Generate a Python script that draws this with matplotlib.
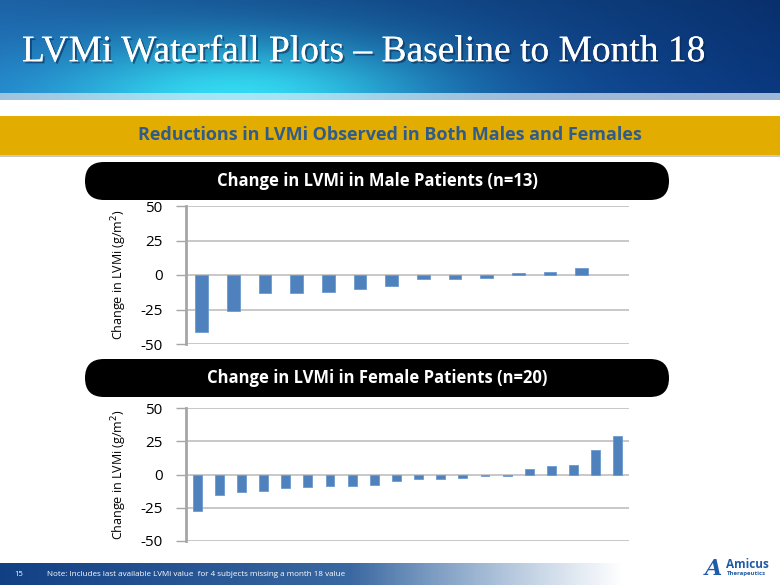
import matplotlib
matplotlib.use('Agg')
import matplotlib.pyplot as plt
import matplotlib.patheffects as pe
import numpy as np
from matplotlib.patches import FancyBboxPatch, Rectangle

# data (change in LVMi, g/m^2)
male_values = [-41, -26, -13, -13, -12.3, -10.4, -8, -3, -3, -2, 1.5, 2.2, 5]
female_values = [-27.5, -15.5, -13, -12.3, -10.3, -9.1, -8.6, -8.6, -7.8, -4.8,
                 -3.3, -3.3, -2.3, -1.3, -1.5, 4.3, 6.5, 7.3, 18.1, 29]
male_slots = 14
female_slots = 20
y_ticks = [-50, -25, 0, 25, 50]

title = 'LVMi Waterfall Plots \u2013 Baseline to Month 18'
subtitle = 'Reductions in LVMi Observed in Both Males and Females'
male_title = 'Change in LVMi in Male Patients (n=13)'
female_title = 'Change in LVMi in Female Patients (n=20)'
y_label = 'Change in LVMi (g/m$^2$)'
note = 'Note: Includes last available LVMi value  for 4 subjects missing a month 18 value'

W, H = 780, 585
BAR = '#4F81BD'
GRID = '#BFBFBF'
FONT = 'Open Sans'

fig = plt.figure(figsize=(W / 100, H / 100), dpi=100)
bg = fig.add_axes([0, 0, 1, 1])
bg.set_xlim(0, W)
bg.set_ylim(H, 0)
bg.axis('off')

# banner gradient (decoration)
xx, yy = np.meshgrid(np.linspace(0, 1, W), np.linspace(0, 1, 93))
left = np.array([0.13, 0.45, 0.76])
right = np.array([0.04, 0.22, 0.50])
base = left[None, None, :] * (1 - xx[..., None]) + right[None, None, :] * xx[..., None]
glow = np.exp(-(((xx - 0.30) / 0.25) ** 2 + ((yy - 1.0) / 0.6) ** 2))
cyan = np.array([0.20, 0.85, 0.95])
img = base * (1 - glow[..., None]) + cyan[None, None, :] * glow[..., None]
img = img * (0.85 + 0.15 * yy[..., None])
bg.imshow(np.clip(img, 0, 1), extent=[0, W, 93, 0], aspect='auto', zorder=0)
sx = np.linspace(0, 1, W)
sglow = np.exp(-((sx - 0.3) / 0.25) ** 2)
stripe = np.zeros((1, W, 3))
stripe[0] = np.array([0.62, 0.72, 0.84])[None, :] * (1 - sglow[:, None]) + \
    np.array([0.65, 0.90, 0.97])[None, :] * sglow[:, None]
bg.imshow(stripe, extent=[0, W, 100, 93], aspect='auto', zorder=0)

bg.text(22, 52, title, fontsize=27, family='Liberation Serif', color='white',
        va='center', ha='left', zorder=3,
        path_effects=[pe.withSimplePatchShadow(offset=(1.5, -1.5),
                                               shadow_rgbFace='#0a2a55', alpha=0.6),
                      pe.Normal()])

# gold band
bg.add_patch(Rectangle((0, 116), W, 39, facecolor='#E3AC00', edgecolor='none', zorder=1))
bg.add_patch(Rectangle((0, 155), W, 2, facecolor='#C8C8C8', edgecolor='none', zorder=1))
bg.text(390, 135.5, subtitle, fontsize=13, family=FONT, weight='bold', color='#2F5C8A',
        ha='center', va='center', zorder=2)

# black pills
for top, txt in [(162, male_title), (359, female_title)]:
    bg.add_patch(FancyBboxPatch((85, top), 584, 38,
                                boxstyle='round,pad=0,rounding_size=19',
                                facecolor='black', edgecolor='none', zorder=2))
    bg.text(377, top + 19, txt, fontsize=12, family=FONT, weight='bold',
            color='white', ha='center', va='center', zorder=3)

# footer gradient
fx = np.linspace(0, 1, W)
alpha = np.clip(1 - (fx - 0.45) / 0.35, 0, 1)
foot = np.zeros((1, W, 4))
foot[0, :, 0] = 0.07 + 0.35 * fx
foot[0, :, 1] = 0.25 + 0.35 * fx
foot[0, :, 2] = 0.52 + 0.25 * fx
foot[0, :, 3] = alpha
bg.imshow(foot, extent=[0, W, 585, 563], aspect='auto', zorder=1)
bg.text(14, 575, '15', fontsize=5.5, family=FONT, color='white', va='center', zorder=2)
bg.text(47, 575, note, fontsize=5.8, family=FONT, color='white', va='center', zorder=2)

# logo
bg.text(713, 569, 'A', fontsize=16, family='DejaVu Serif', style='italic', weight='bold',
        color='#1F5BA8', ha='center', va='center', zorder=2)
bg.text(726, 564, 'Amicus', fontsize=8.5, family=FONT, weight='bold', color='#1F5BA8',
        ha='left', va='center', zorder=2)
bg.text(727, 574, 'Therapeutics', fontsize=4.3, family=FONT, weight='bold', color='#1F5BA8',
        ha='left', va='center', zorder=2)


def waterfall(top, bottom, values, slots):
    ax = fig.add_axes([186 / W, 1 - bottom / H, 443 / W, (bottom - top) / H])
    ax.bar(np.arange(len(values)), values, width=0.4, color=BAR,
           edgecolor='#6E9AD0', linewidth=0.6, zorder=3)
    ax.set_xlim(-0.5, slots - 0.5)
    ax.set_ylim(-50, 50)
    ax.set_yticks(y_ticks)
    ax.set_yticklabels([str(v) for v in y_ticks], fontsize=11, family=FONT)
    ax.yaxis.grid(True, color=GRID, linewidth=1.2, zorder=0)
    ax.set_xticks([])
    for s in ['top', 'right', 'bottom']:
        ax.spines[s].set_visible(False)
    ax.spines['left'].set_color('#A6A6A6')
    ax.spines['left'].set_linewidth(2)
    ax.tick_params(axis='y', length=7, width=1, color='#A6A6A6', pad=10)
    ax.set_ylabel(y_label, fontsize=9, family=FONT, labelpad=8)
    ax.patch.set_alpha(0)
    return ax


waterfall(206, 344, male_values, male_slots)
waterfall(408, 541, female_values, female_slots)

fig.savefig('out.png', dpi=100)
